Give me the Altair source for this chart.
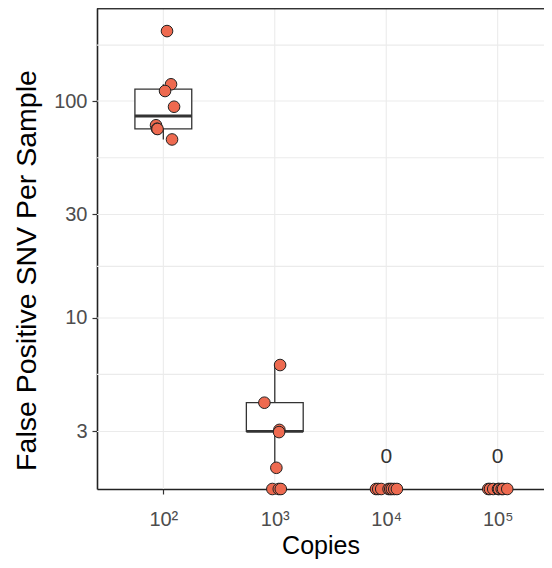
import altair as alt
import pandas as pd

# ---- data ----
g1_copies = [107.9, 117.2, 103.6, 124.8, 86.0, 87.8, 88.7, 119.7]
g1_fp = [210, 119.4, 111.2, 94.1, 77.3, 74.5, 74.3, 66.5]
g2_copies = [1116, 807, 1100, 1093, 1033, 951, 1086, 1132]
g2_fp = [6.07, 4.07, 3.05, 2.98, 2.04, 0, 0, 0]
g3_copies = [8091, 8472, 9016, 10495, 10864, 11246, 11803, 12474]
g3_fp = [0, 0, 0, 0, 0, 0, 0, 0]
g4_copies = [82350, 85300, 91200, 100700, 102800, 108600, 111700, 121900]
g4_fp = [0, 0, 0, 0, 0, 0, 0, 0]

box_copies = [100, 1000]
box_lo = [66.5, 2.04]
box_q1 = [74.4, 3.0]
box_med = [85.3, 3.0]
box_q3 = [113.4, 4.07]
box_hi = [119.4, 6.07]

zero_copies = [10000, 100000]
zero_y = [2.29, 2.29]
zero_text = ["0", "0"]

y_ticks = [3, 10, 30, 100]
y_grid = [3, 5.5, 10, 17.3, 30, 54.8, 100, 181]
x_ticks = [100, 1000, 10000, 100000]
x_tick_labels = ["10²", "10³", "10⁴", "10⁵"]

y_domain = [1.629, 268.3]
x_domain = [25.4, 260400]

# ---- tables ----
pts = pd.DataFrame({
    "copies": g1_copies + g2_copies + g3_copies + g4_copies,
    "fp": g1_fp + g2_fp + g3_fp + g4_fp,
})
box = pd.DataFrame({"copies": box_copies, "lo": box_lo, "q1": box_q1,
                    "med": box_med, "q3": box_q3, "hi": box_hi})
zeros = pd.DataFrame({"copies": zero_copies, "y": zero_y, "t": zero_text})
ygrid = pd.DataFrame({"v": y_grid})
xgrid = pd.DataFrame({"v": x_ticks})

W, H = 447, 481

xs = alt.Scale(type="log", domain=x_domain, nice=False)
ys = alt.Scale(type="log", domain=y_domain, nice=False)

label_expr = " : ".join(f"datum.value == {v} ? '{l}'" for v, l in zip(x_ticks, x_tick_labels)) + " : ''"

x_axis = alt.Axis(values=x_ticks, labelExpr=label_expr, tickSize=5,
                  labelPadding=15, titlePadding=4, grid=False)
y_axis = alt.Axis(values=y_ticks, format="d", tickSize=5, labelPadding=5,
                  titlePadding=12, titleY=262, grid=False)
XT = "Copies"
YT = "False Positive SNV Per Sample"


def X(f):
    return alt.X(f, scale=xs, axis=x_axis, title=XT)


def Y(f):
    return alt.Y(f, scale=ys, axis=y_axis, title=YT)


grid_col = "#EBEBEB"
dark = "#333333"

hgrid = alt.Chart(ygrid).mark_rule(color=grid_col, strokeWidth=1.1).encode(y=Y("v:Q"))
vgrid = alt.Chart(xgrid).mark_rule(color=grid_col, strokeWidth=1.1).encode(x=X("v:Q"))

whisk = alt.Chart(box).mark_rule(color=dark, strokeWidth=1.3).encode(
    x=X("copies:Q"), y=Y("lo:Q"), y2="hi:Q")

box_base = alt.Chart(box).transform_calculate(
    xa="datum.copies / pow(10, 0.255)", xb="datum.copies * pow(10, 0.255)")
boxes = box_base.mark_rect(fill="white", stroke=dark, strokeWidth=1.3).encode(
    x=X("xa:Q"), x2="xb:Q", y=Y("q1:Q"), y2="q3:Q")
meds = box_base.mark_rule(color=dark, strokeWidth=2.8).encode(
    x=X("xa:Q"), x2="xb:Q", y=Y("med:Q"))

points = alt.Chart(pts).transform_calculate(
    fpy=f"max(datum.fp, {y_domain[0]})"
).mark_circle(size=135, fill="#EE6A50", stroke="#222222", strokeWidth=1, opacity=1).encode(
    x=X("copies:Q"), y=Y("fpy:Q"))

ztext = alt.Chart(zeros).mark_text(fontSize=21, color=dark, font="Liberation Sans",
                                    baseline="middle").encode(
    x=X("copies:Q"), y=Y("y:Q"), text="t:N")

top_border = alt.Chart(zeros).mark_rule(color=dark, strokeWidth=2.5).encode(
    y=alt.value(0), x=alt.value(0), x2=alt.value(W))

chart = alt.layer(hgrid, vgrid, whisk, boxes, meds, points, ztext, top_border).properties(
    width=W, height=H,
    autosize=alt.AutoSizeParams(type="none"),
    padding={"left": 89, "top": 0, "right": 0, "bottom": 71},
).configure_view(stroke=None).configure_axis(
    labelFont="Liberation Sans", titleFont="Liberation Sans",
    labelFontSize=20, titleFontSize=25, titleFontWeight="normal",
    labelColor="#4D4D4D", titleColor="black",
    tickColor=dark, tickWidth=1.2, domainColor="#222222", domainWidth=1.6,
).configure_axisY(titleFontSize=28.5)

chart.save("out.html", embed_options={"renderer": "svg", "actions": False})
